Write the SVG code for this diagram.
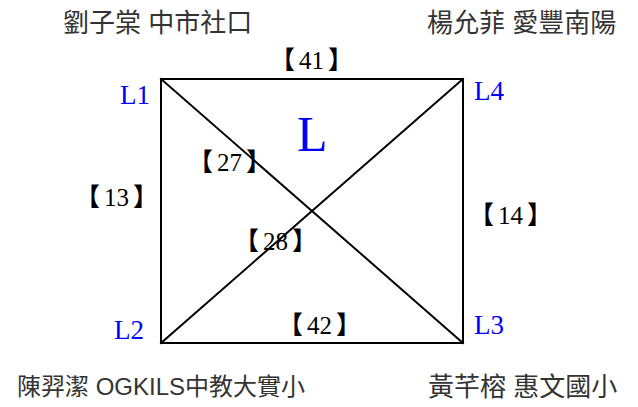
<svg xmlns="http://www.w3.org/2000/svg" width="638" height="407" viewBox="0 0 638 407">
<style>
.name{font-family:"Liberation Sans","Noto Sans CJK TC",sans-serif;font-size:26px;fill:#333333}
.small{font-size:24px}
.lbl{font-family:"Liberation Serif","Noto Serif CJK TC",serif;font-size:27px;fill:#0000ff}
.big{font-family:"Liberation Serif",serif;font-size:50px;fill:#0000ff}
.w{font-family:"Liberation Serif","Noto Sans CJK TC",serif;font-size:25px;fill:#000000}
.b{font-family:"Noto Sans CJK TC","Noto Sans CJK SC",sans-serif;font-weight:bold}
.edge{stroke:#000000;stroke-width:2;fill:none;stroke-linecap:square}
</style>
<rect width="638" height="407" fill="#ffffff"/>
<g id="connectors">
<line class="edge" x1="161" y1="79" x2="463" y2="79"/>
<line class="edge" x1="161" y1="79" x2="161" y2="343"/>
<line class="edge" x1="463" y1="79" x2="463" y2="343"/>
<line class="edge" x1="161" y1="343" x2="463" y2="343"/>
<line class="edge" x1="161" y1="79" x2="463" y2="343"/>
<line class="edge" x1="161" y1="343" x2="463" y2="79"/>
<text class="w" x="270" y="69"><tspan class="b">【</tspan><tspan dx="4">41</tspan><tspan class="b" dx="4">】</tspan></text>
<text class="w" x="75" y="206"><tspan class="b">【</tspan><tspan dx="4">13</tspan><tspan class="b" dx="4">】</tspan></text>
<text class="w" x="469" y="224"><tspan class="b">【</tspan><tspan dx="4">14</tspan><tspan class="b" dx="4">】</tspan></text>
<text class="w" x="278" y="334"><tspan class="b">【</tspan><tspan dx="4">42</tspan><tspan class="b" dx="4">】</tspan></text>
<text class="w" x="188" y="171"><tspan class="b">【</tspan><tspan dx="4">27</tspan><tspan class="b" dx="4">】</tspan></text>
<text class="w" x="234" y="250"><tspan class="b">【</tspan><tspan dx="4">28</tspan><tspan class="b" dx="4">】</tspan></text>
</g>
<g id="title">
<text class="big" x="297" y="151">L</text>
</g>
<g id="L1">
<text class="lbl" x="150" y="104" text-anchor="end">L1</text>
<text class="name" x="63" y="32">劉子棠 中市社口</text>
</g>
<g id="L4">
<text class="lbl" x="474" y="100">L4</text>
<text class="name" x="427" y="32">楊允菲 愛豐南陽</text>
</g>
<g id="L2">
<text class="lbl" x="144" y="339" text-anchor="end">L2</text>
<text class="name small" x="17" y="395">陳羿潔 OGKILS中教大實小</text>
</g>
<g id="L3">
<text class="lbl" x="474" y="334">L3</text>
<text class="name" x="428" y="396">黃芊榕 惠文國小</text>
</g>
</svg>
